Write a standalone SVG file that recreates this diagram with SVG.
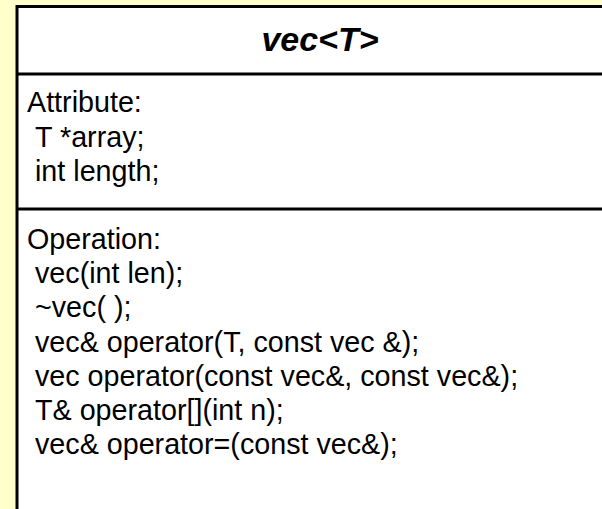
<svg xmlns="http://www.w3.org/2000/svg" width="602" height="509" viewBox="0 0 602 509">
<style>
.t{font-family:"Liberation Sans",Arial,sans-serif;font-size:28.7px;fill:#000}
.title{font-family:"Liberation Sans",Arial,sans-serif;font-size:34px;font-weight:bold;font-style:italic;fill:#000}
.ln{stroke:#000;stroke-width:3;fill:none}
</style>
<rect x="0" y="0" width="602" height="509" fill="#FFFFCC"/>
<g id="class-vec">
<rect x="17" y="6.5" width="600" height="520" fill="#fff" stroke="#000" stroke-width="3"/>
<line class="ln" x1="17" y1="74" x2="602" y2="74"/>
<line class="ln" x1="17" y1="209" x2="602" y2="209"/>
<text class="title" x="320" y="51" text-anchor="middle">vec&lt;T&gt;</text>
<text class="t" x="27" y="112">Attribute:</text>
<text class="t" x="35" y="147">T *array;</text>
<text class="t" x="35" y="181">int length;</text>
<text class="t" x="27" y="249">Operation:</text>
<text class="t" x="35" y="283">vec(int len);</text>
<text class="t" x="35" y="317">~vec( );</text>
<text class="t" x="35" y="352">vec&amp; operator(T, const vec &amp;);</text>
<text class="t" x="35" y="386">vec operator(const vec&amp;, const vec&amp;);</text>
<text class="t" x="35" y="420">T&amp; operator[](int n);</text>
<text class="t" x="35" y="454">vec&amp; operator=(const vec&amp;);</text>
</g>
</svg>
